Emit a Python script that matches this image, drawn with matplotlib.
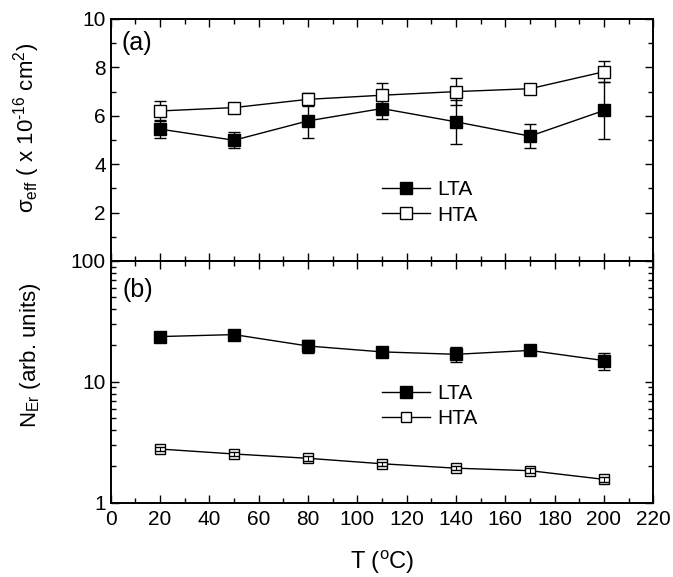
import matplotlib
matplotlib.use("Agg")
import matplotlib.pyplot as plt
from matplotlib.ticker import MultipleLocator, LogLocator, FuncFormatter, NullFormatter

plt.rcParams['font.family'] = ['Liberation Sans', 'DejaVu Sans']
plt.rcParams['mathtext.fontset'] = 'custom'
plt.rcParams['mathtext.rm'] = 'Liberation Sans'
plt.rcParams['mathtext.it'] = 'Liberation Sans'

# Data
T = [20, 50, 80, 110, 140, 170, 200]

sigma_LTA = [5.45, 4.99, 5.79, 6.30, 5.75, 5.16, 6.22]
sigma_LTA_err = [0.36, 0.33, 0.72, 0.45, 0.90, 0.50, 1.16]
sigma_HTA = [6.20, 6.34, 6.68, 6.85, 7.00, 7.12, 7.82]
sigma_HTA_err = [0.41, 0.15, 0.28, 0.50, 0.55, 0.20, 0.43]

N_LTA = [23.7, 24.6, 19.8, 17.7, 16.9, 18.2, 15.0]
N_LTA_err = [0.6, 0.6, 2.5, 0.8, 2.4, 1.0, 2.4]
N_HTA = [2.78, 2.53, 2.33, 2.10, 1.93, 1.84, 1.56]
N_HTA_err = [0.12, 0.10, 0.10, 0.08, 0.08, 0.08, 0.08]

labels = ['LTA', 'HTA']
xticks = list(range(0, 221, 20))

W, H = 673, 577
fig = plt.figure(figsize=(W / 100, H / 100), dpi=100)
left, right = 110.7, 653.3
top_t, top_b = 19, 261
bot_t, bot_b = 261, 502.7
ax1 = fig.add_axes([left / W, 1 - top_b / H, (right - left) / W, (top_b - top_t) / H])
ax2 = fig.add_axes([left / W, 1 - bot_b / H, (right - left) / W, (bot_b - bot_t) / H])

for ax in (ax1, ax2):
    for s in ax.spines.values():
        s.set_linewidth(1.4)
    ax.tick_params(which='both', direction='in', top=True, right=True, width=1.0,
                   labelsize=15)
    ax.tick_params(which='major', length=6)
    ax.tick_params(which='minor', length=3.5)
    ax.set_xlim(0, 220)
    ax.set_xticks(xticks)
    ax.xaxis.set_minor_locator(MultipleLocator(10))
    ax.tick_params(axis='x', pad=5)

ms = 8
eb_kw = dict(ecolor='black', elinewidth=1.0, capsize=4, capthick=1.0, color='black', lw=1.0)

# Panel (a)
l1 = ax1.errorbar(T, sigma_LTA, yerr=sigma_LTA_err, marker='s', ms=ms, mfc='black', mec='black',
                  label=labels[0], **eb_kw)
l2 = ax1.errorbar(T, sigma_HTA, yerr=sigma_HTA_err, marker='s', ms=ms, mfc='white', mec='black',
                  mew=1.0, label=labels[1], **eb_kw)
ax1.set_ylim(0, 10)
ax1.yaxis.set_major_locator(MultipleLocator(2))
ax1.yaxis.set_minor_locator(MultipleLocator(1))
ax1.set_yticks([0, 2, 4, 6, 8, 10])
ax1.set_yticklabels(['', '2', '4', '6', '8', '10'])
ax1.tick_params(axis='x', labelbottom=False)
ax1.set_ylabel(r'$\sigma_{\mathrm{eff}}$ ( x 10$^{\text{-16}}$ cm$^{2}$)', fontsize=16)
ax1.yaxis.set_label_coords(-0.126, 0.55)
ax1.text(0.02, 0.901, '(a)', transform=ax1.transAxes, fontsize=18, va='center', ha='left')
ax1.legend([l1[0], l2[0]], labels, frameon=False, loc='center left',
           bbox_to_anchor=(0.5, 0.2417), borderaxespad=0, borderpad=0,
           handlelength=2.3, handletextpad=0.35, labelspacing=0.3, fontsize=15, numpoints=1)

# Panel (b)
m1 = ax2.errorbar(T, N_LTA, yerr=N_LTA_err, marker='s', ms=ms, mfc='black', mec='black',
                  label=labels[0], **eb_kw)
m2 = ax2.errorbar(T, N_HTA, yerr=N_HTA_err, marker='s', ms=7, mfc='white', mec='black',
                  mew=1.0, label=labels[1], ecolor='black', elinewidth=0.8, capsize=3.5,
                  capthick=0.8, color='black', lw=1.0)
for art in list(m2[1]) + list(m2[2]):
    art.set_zorder(3)
ax2.set_yscale('log')
ax2.set_ylim(1, 100)
ax2.yaxis.set_major_locator(LogLocator(base=10, numticks=10))
ax2.yaxis.set_minor_locator(LogLocator(base=10, subs=range(2, 10), numticks=20))
ax2.yaxis.set_major_formatter(FuncFormatter(lambda v, p: f'{v:g}'))
ax2.yaxis.set_minor_formatter(NullFormatter())
ax2.set_ylabel(r'N$_{\mathrm{Er}}$ (arb. units)', fontsize=16)
ax2.yaxis.set_label_coords(-0.124, 0.612)
ax2.set_xlabel(r'T ($^{\mathrm{o}}$C)', fontsize=17)
ax2.xaxis.set_label_coords(0.5, -0.245)
ax2.xaxis.label.set_va('center')
ax2.text(0.022, 0.88, '(b)', transform=ax2.transAxes, fontsize=18, va='center', ha='left')
ax2.legend([m1[0], m2[0]], labels, frameon=False, loc='center left',
           bbox_to_anchor=(0.5, 0.399), borderaxespad=0, borderpad=0,
           handlelength=2.3, handletextpad=0.35, labelspacing=0.3, fontsize=15, numpoints=1)

fig.savefig('out.png', dpi=100)
